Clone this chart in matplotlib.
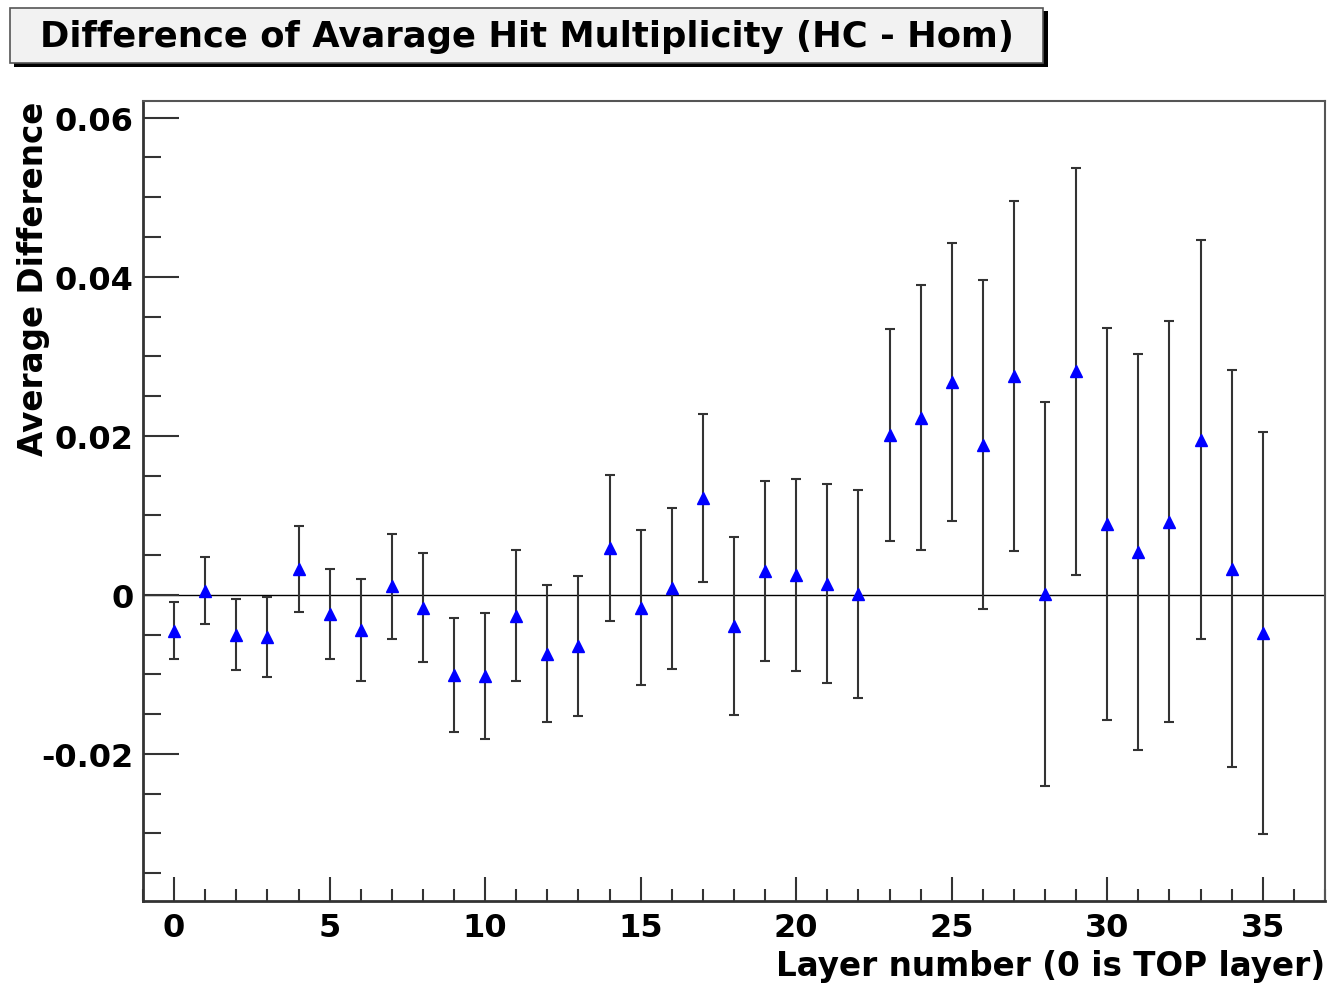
import numpy as np
import matplotlib
matplotlib.use("Agg")
import matplotlib.pyplot as plt
from matplotlib.patches import Rectangle
from matplotlib.ticker import MultipleLocator

# layer number, mean difference and its error
layers = np.arange(0, 36)
diff = [-0.0045, 0.0005, -0.0050, -0.0053, 0.0033, -0.0024, -0.0044, 0.0011,
        -0.0016, -0.0101, -0.0102, -0.0026, -0.0074, -0.0064, 0.0059, -0.0016,
        0.0008, 0.0122, -0.0039, 0.0030, 0.0025, 0.0014, 0.0001, 0.0201,
        0.0223, 0.0268, 0.0189, 0.0275, 0.0001, 0.0281, 0.0089, 0.0054,
        0.0092, 0.0195, 0.0033, -0.0048]
err = [0.0036, 0.0042, 0.0045, 0.0050, 0.0054, 0.0057, 0.0064, 0.0066,
       0.0069, 0.0072, 0.0079, 0.0082, 0.0086, 0.0088, 0.0092, 0.0097,
       0.0101, 0.0106, 0.0112, 0.0113, 0.0121, 0.0125, 0.0131, 0.0133,
       0.0167, 0.0175, 0.0207, 0.0220, 0.0241, 0.0256, 0.0247, 0.0249,
       0.0252, 0.0251, 0.0250, 0.0253]

title = "Difference of Avarage Hit Multiplicity (HC - Hom)"
xlabel = "Layer number (0 is TOP layer)"
ylabel = "Average Difference"

plt.rcParams['font.family'] = ['DejaVu Sans']
plt.rcParams['font.weight'] = 'bold'

W, H = 1329, 987
fig = plt.figure(figsize=(W/100, H/100), dpi=100)
ax = fig.add_axes([143/W, 1-902/H, (1325-143)/W, (902-102)/H])

ax.axhline(0, color='black', lw=1.0, zorder=1)
ax.errorbar(layers, diff, yerr=err, fmt='none', ecolor='#333333', elinewidth=1.5,
            capsize=3.5, capthick=1.5, zorder=2)
ax.plot(layers, diff, linestyle='none', marker='^', color='blue', markersize=9, zorder=3)

ax.set_xlim(-1, 37)
ax.set_ylim(-0.0385, 0.0621)

ax.xaxis.set_major_locator(MultipleLocator(5))
ax.xaxis.set_minor_locator(MultipleLocator(1))
ax.yaxis.set_major_locator(MultipleLocator(0.02))
ax.yaxis.set_minor_locator(MultipleLocator(0.005))
ax.tick_params(axis='both', which='both', direction='in', width=1.5, color='#333333',
               labelsize=23, top=False, right=False)
ax.tick_params(axis='y', which='major', length=26, pad=7)
ax.tick_params(axis='y', which='minor', length=13)
ax.tick_params(axis='x', which='major', length=17, pad=8)
ax.tick_params(axis='x', which='minor', length=9)
ax.yaxis.set_major_formatter(plt.FuncFormatter(lambda v, p: "0" if abs(v) < 1e-9 else f"{v:g}"))

for s in ['left', 'bottom']:
    ax.spines[s].set_linewidth(2)
    ax.spines[s].set_color('#333333')
for s in ['top', 'right']:
    ax.spines[s].set_linewidth(1.5)
    ax.spines[s].set_color('#555555')

ax.set_xlabel(xlabel, fontsize=23.5, fontweight='bold', loc='right', labelpad=4)
ax.set_ylabel(ylabel, fontsize=23.5, fontweight='bold', loc='top')
ax.yaxis.set_label_coords(-0.079, 1.0)

# title box with shadow, ROOT style
fig.patches.append(Rectangle((14/W, 1-68/H), (1048-14)/W, (68-12)/H, transform=fig.transFigure,
                             facecolor='black', edgecolor='none', zorder=0))
fig.patches.append(Rectangle((10/W, 1-64/H), (1043-10)/W, (64-9)/H, transform=fig.transFigure,
                             facecolor='#f2f2f2', edgecolor='#555555', lw=1.2, zorder=1))
fig.text(527/W, 1-37/H, title, fontsize=25.5, fontweight='bold', ha='center', va='center')

fig.savefig("out.png", dpi=100)
